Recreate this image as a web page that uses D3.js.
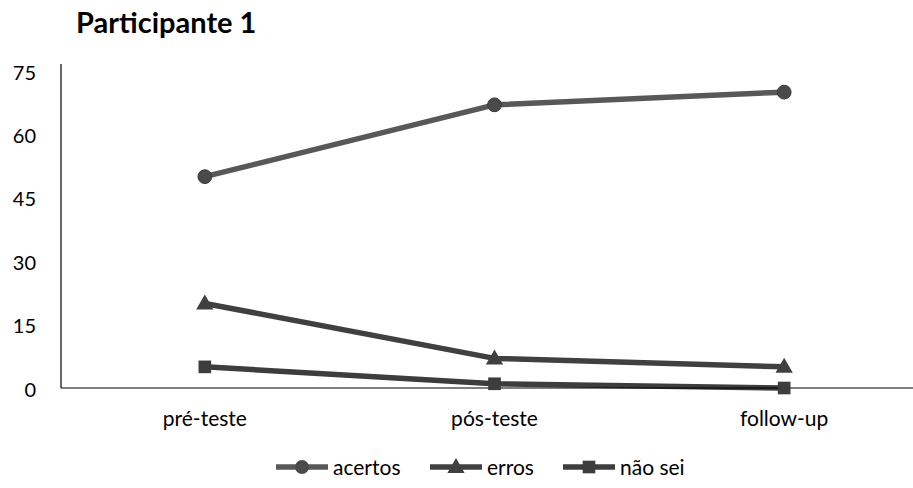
<!DOCTYPE html>
<html>
<head>
<meta charset="utf-8">
<script src="https://cdn.jsdelivr.net/npm/d3@7"></script>
<style>
  html, body { margin: 0; padding: 0; background: #fff; }
  svg { display: block; font-family: Lato, "Open Sans", sans-serif; }
</style>
</head>
<body>
<svg id="chart" width="913" height="488"></svg>
<script>
// Sessions on the x axis
const categories = ["pré-teste", "pós-teste", "follow-up"];
// Series values per session
const acertos = [50, 67, 70];
const erros = [20, 7, 5];
const naoSei = [5, 1, 0];
// Y axis tick values
const yTicks = [0, 15, 30, 45, 60, 75];
const chartTitle = "Participante 1";

const series = [
  { name: "acertos", values: acertos, color: "#585858", marker: "circle" },
  { name: "erros", values: erros, color: "#404040", marker: "triangle" },
  { name: "não sei", values: naoSei, color: "#3d3d3d", marker: "square" }
];

const svg = d3.select("#chart");
const W = 913;

const x = d3.scaleBand().domain(categories).range([60, 929]);
const y = d3.scaleLinear().domain([0, 75]).range([388, 71]);
const cx = d => x(d) + x.bandwidth() / 2;

// Title
svg.append("text")
  .attr("x", 76).attr("y", 33)
  .attr("font-size", 29).attr("font-weight", 700)
  .attr("fill", "#000")
  .text(chartTitle);

// Y axis: labels only, plus a plain vertical line
const yAxis = d3.axisLeft(y).tickValues(yTicks).tickSize(0).tickPadding(25);
const gy = svg.append("g").attr("transform", "translate(61,0)").call(yAxis);
gy.select(".domain").remove();
gy.selectAll("text").attr("font-size", 20).attr("fill", "#000")
  .attr("font-family", "Lato, 'Open Sans', sans-serif").attr("dy", "0.4em");
svg.append("line")
  .attr("x1", 61).attr("x2", 61).attr("y1", 64).attr("y2", y(0))
  .attr("stroke", "#000").attr("stroke-width", 1.2);

// X axis: labels only, plus a horizontal baseline
const xAxis = d3.axisBottom(x).tickSize(0).tickPadding(23);
const gx = svg.append("g").attr("transform", `translate(0,${y(0)})`).call(xAxis);
gx.select(".domain").remove();
gx.selectAll("text").attr("font-size", 21).attr("fill", "#000")
  .attr("font-family", "Lato, 'Open Sans', sans-serif");

// Lines and markers
const line = d3.line().x((d, i) => cx(categories[i])).y(d => y(d));
const symbolOf = { circle: d3.symbolCircle, triangle: d3.symbolTriangle, square: d3.symbolSquare };
const sizeOf = { circle: 150, triangle: 130, square: 160 };

series.forEach(s => {
  svg.append("path")
    .attr("d", line(s.values))
    .attr("fill", "none")
    .attr("stroke", s.color)
    .attr("stroke-width", 5.5)
    .attr("stroke-linejoin", "round");
});

// x-axis baseline drawn over the lowest series
svg.append("line")
  .attr("x1", 61).attr("x2", W).attr("y1", y(0)).attr("y2", y(0))
  .attr("stroke", "#000").attr("stroke-width", 1.2);

series.forEach(s => {
  svg.append("g").selectAll("path")
    .data(s.values)
    .join("path")
    .attr("transform", (d, i) => `translate(${cx(categories[i])},${y(d) + (s.marker === "triangle" ? 1 : 0)})`)
    .attr("d", d3.symbol().type(symbolOf[s.marker]).size(sizeOf[s.marker]))
    .attr("fill", s.marker === "circle" ? "#4a4a4a" : s.color)
    .attr("stroke", s.marker === "circle" ? "#3a3a3a" : "none")
    .attr("stroke-width", 1);
});

// Legend
const legendX = [276, 430, 563];
const legendY = 467;
const lg = svg.append("g");
series.forEach((s, i) => {
  const g = lg.append("g").attr("transform", `translate(${legendX[i]},${legendY})`);
  g.append("line").attr("x1", 0).attr("x2", 52).attr("y1", 0).attr("y2", 0)
    .attr("stroke", s.color).attr("stroke-width", 5.5);
  g.append("path")
    .attr("transform", `translate(26,${s.marker === "triangle" ? 1 : 0})`)
    .attr("d", d3.symbol().type(symbolOf[s.marker]).size(sizeOf[s.marker]))
    .attr("fill", s.marker === "circle" ? "#4a4a4a" : s.color);
  g.append("text").attr("x", 57).attr("y", 0).attr("dy", "0.36em")
    .attr("font-size", 21).attr("fill", "#000")
    .text(s.name);
});
</script>
</body>
</html>
